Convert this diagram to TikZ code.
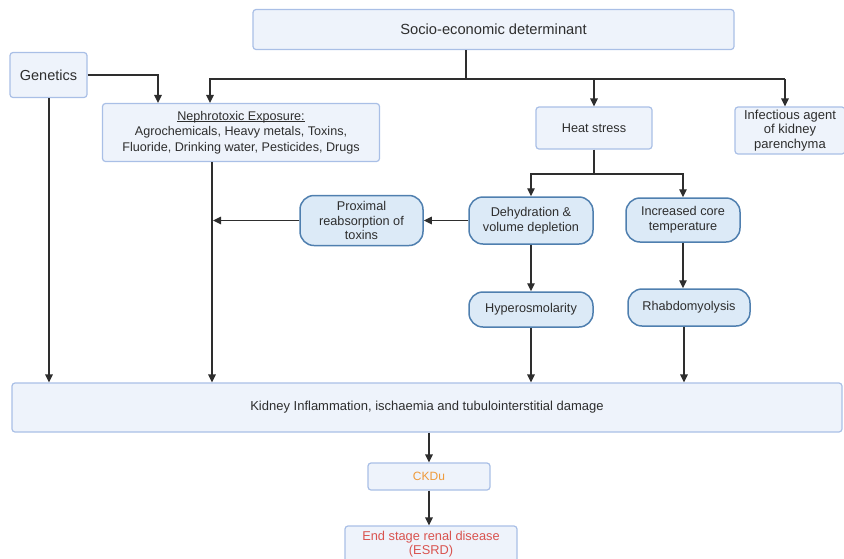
\documentclass[tikz,border=0pt]{standalone}
\usepackage{fontspec}
\setmainfont{Liberation Sans}
\usetikzlibrary{arrows.meta}
\definecolor{rbfill}{HTML}{EEF3FB}
\definecolor{rbdraw}{HTML}{A9BFE6}
\definecolor{pfill}{HTML}{DCEAF7}
\definecolor{pdraw}{HTML}{4F7FAF}
\definecolor{ink}{HTML}{2E2E2E}
\definecolor{ckdcol}{HTML}{EE9A3A}
\definecolor{esrdcol}{HTML}{D9534F}
\newcommand\ulx[1]{\setbox0\hbox{#1}\rlap{\rule[-1.7pt]{\wd0}{0.6pt}}\box0}
\begin{document}
\begin{tikzpicture}[x=1pt,y=-1pt,
  rbox/.style={draw=rbdraw,fill=rbfill,line width=1.2pt,rounded corners=3pt,inner sep=0pt,align=center,text=ink,font=\fontsize{12.6}{15.5}\selectfont},
  pbox/.style={draw=pdraw,fill=pfill,line width=1.5pt,rounded corners=14pt,inner sep=0pt,align=center,text=ink,font=\fontsize{12.7}{14.8}\selectfont},
  conn/.style={draw=ink,line width=1.4pt},
  arr/.style={conn,-{Triangle[length=8pt,width=7.5pt]}}]
\useasboundingbox (0,0) rectangle (844,558);
% nodes
\node[rbox,minimum width=481pt,minimum height=40pt,font=\fontsize{14.7}{16}\selectfont] (socio) at (493.5,29.5) {Socio-economic determinant};
\node[rbox,minimum width=77pt,minimum height=45pt,font=\fontsize{14.5}{16}\selectfont] (gen) at (48.5,75) {Genetics};
\node[rbox,minimum width=277pt,minimum height=58pt] (nephro) at (241,132.5) {\ulx{Nephrotoxic Exposure:}\\Agrochemicals, Heavy metals, Toxins,\\Fluoride, Drinking water, Pesticides, Drugs};
\node[rbox,minimum width=116pt,minimum height=42pt,font=\fontsize{12.7}{14}\selectfont] (heat) at (594,128) {Heat stress};
\node[rbox,minimum width=110pt,minimum height=47pt,font=\fontsize{13}{14.5}\selectfont] (infect) at (790,130.5) {Infectious agent\\of kidney\\parenchyma};
\node[pbox,minimum width=123pt,minimum height=50pt] (prox) at (361.5,220.5) {Proximal\\reabsorption of\\toxins};
\node[pbox,minimum width=124pt,minimum height=47pt] (dehyd) at (531,220.5) {Dehydration \&\\volume depletion};
\node[pbox,minimum width=124pt,minimum height=35pt] (hyper) at (531,309.5) {Hyperosmolarity};
\node[pbox,minimum width=114pt,minimum height=44pt] (core) at (683,220) {Increased core\\temperature};
\node[pbox,minimum width=122pt,minimum height=37pt] (rhabdo) at (689,307.5) {Rhabdomyolysis};
\node[rbox,minimum width=830pt,minimum height=49pt,font=\fontsize{13}{14}\selectfont] (kidney) at (427,407.5) {Kidney Inflammation, ischaemia and tubulointerstitial damage};
\node[rbox,minimum width=122pt,minimum height=27pt,text=ckdcol,font=\fontsize{12}{13}\selectfont] (ckdu) at (429,476.5) {CKDu};
\node[rbox,minimum width=172pt,minimum height=36pt,text=esrdcol,font=\fontsize{12.8}{13.5}\selectfont] (esrd) at (431,544) {End stage renal disease\\(ESRD)};
% coordinates
\coordinate (busM) at (466,79);
\coordinate (busL) at (210,79);
\coordinate (busR) at (785,79);
\coordinate (hb) at (594,174);
\coordinate (gx) at (158,0);
\coordinate (nx) at (212,0);
% connectors
\draw[conn] (socio.south -| busM) -- (busM);
\draw[arr] (busR) -- (busL) -- (nephro.north -| busL);
\draw[arr] (heat.north |- busL) -- (heat.north);
\draw[arr] (busR) -- (infect.north -| busR);
\draw[arr] (gen.east) -| (nephro.north -| gx);
\draw[conn] (heat.south) -- (hb);
\draw[arr] (hb) -| (dehyd.north);
\draw[arr] (hb) -| (core.north);
\draw[arr] (dehyd.west) -- (prox.east);
\draw[arr] (prox.west) -- ([xshift=1pt]prox.west -| nx);
\draw[arr] (nephro.south -| nx) -- (kidney.north -| nx);
\draw[arr] ([xshift=0.5pt]gen.south) -- ([xshift=0.5pt]gen.south |- kidney.north);
\draw[arr] (dehyd.south) -- (hyper.north);
\draw[arr] (hyper.south) -- (hyper.south |- kidney.north);
\draw[arr] (core.south) -- (core.south |- rhabdo.north);
\draw[arr] ([xshift=-5pt]rhabdo.south) -- ([xshift=-5pt]rhabdo.south |- kidney.north);
\draw[arr] (ckdu.north |- kidney.south) -- (ckdu.north);
\draw[arr] (ckdu.south) -- (ckdu.south |- esrd.north);
\end{tikzpicture}
\end{document}
